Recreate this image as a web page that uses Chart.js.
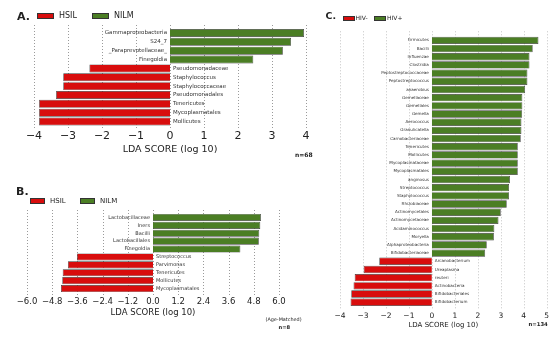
<!DOCTYPE html>
<html>
<head>
<meta charset="utf-8">
<script src="https://cdn.jsdelivr.net/npm/chart.js@4/dist/chart.umd.min.js"></script>
<style>
  body { margin: 0; background: #fff; width: 558px; height: 340px; overflow: hidden; position: relative; font-family: "DejaVu Sans", sans-serif; }
  canvas { position: absolute; }
  .t { position: absolute; white-space: nowrap; line-height: 1; transform: translateY(-50%); color: #222; }
  .box { position: absolute; border: 0.8px solid #333; box-sizing: border-box; }
</style>
</head>
<body>
<canvas id="chart-a" width="330" height="165" style="left:0;top:0"></canvas>
<canvas id="chart-b" width="300" height="175" style="left:0;top:165px"></canvas>
<canvas id="chart-c" width="258" height="340" style="left:300px;top:0"></canvas>
<div id="overlay"></div>

<script>
// Panel A: HSIL vs NILM
const labelsA = ['Gammaproteobacteria', 'S24_7', '_Paraprevotellaceae_', 'Finegoldia',
  'Pseudomonadaceae', 'Staphylococcus', 'Staphylococcaceae', 'Pseudomonadales',
  'Tenericutes', 'Mycoplasmatales', 'Mollicutes'];
const scoresA = [3.94, 3.56, 3.32, 2.45, -2.37, -3.14, -3.14, -3.35, -3.85, -3.85, -3.85];
const ticksA = [-4, -3, -2, -1, 0, 1, 2, 3, 4];
const groupsA = ['HSIL', 'NILM'];

// Panel B: HSIL vs NILM (age-matched)
const labelsB = ['Lactobacillaceae', 'Iners', 'Bacilli', 'Lactobacillales', 'Finegoldia',
  'Streptococcus', 'Parvimonas', 'Tenericutes', 'Mollicutes', 'Mycoplasmatales'];
const scoresB = [5.14, 5.11, 5.06, 5.04, 4.16, -3.62, -4.05, -4.3, -4.32, -4.38];
const ticksB = [-6.0, -4.8, -3.6, -2.4, -1.2, 0.0, 1.2, 2.4, 3.6, 4.8, 6.0];
const groupsB = ['HSIL', 'NILM'];

// Panel C: HIV- vs HIV+
const labelsC = ['Firmicutes', 'Bacilli', 'Influenzae', 'Clostridia', 'Peptostreptococcaceae',
  'Peptostreptococcus', 'anaerobius', 'Gemellaceae', 'Gemellales', 'Gemella', 'Aerococcus',
  'Granulicatella', 'Carnobacteriaceae', 'Tenericutes', 'Mollicutes', 'Mycoplasmataceae',
  'Mycoplasmatales', 'anginosus', 'Streptococcus', 'Staphylococcus', 'Rhizobiaceae',
  'Actinomycetales', 'Actinomycetaceae', 'Acidaminococcus', 'Moryella', 'Alphaproteobacteria',
  'Bifidobacteriaceae', 'Arcanobacterium', 'Ureaplasma', 'reuteri', 'Actinobacteria',
  'Bifidobacteriales', 'Bifidobacterium'];
const scoresC = [4.64, 4.39, 4.25, 4.25, 4.16, 4.16, 4.06, 3.94, 3.94, 3.93, 3.9,
  3.9, 3.87, 3.74, 3.74, 3.74, 3.74, 3.4, 3.36, 3.36, 3.26,
  3.0, 2.9, 2.72, 2.7, 2.39, 2.32, -2.29, -2.97, -3.36, -3.41, -3.51, -3.54];
const ticksC = [-4, -3, -2, -1, 0, 1, 2, 3, 4, 5];
const groupsC = ['HIV-', 'HIV+'];

const RED = '#d80d0d';
const GREEN = '#4b7e24';

Chart.defaults.font.family = '"DejaVu Sans", sans-serif';
Chart.defaults.color = '#222';

// dotted vertical grid lines, a bit longer than the bar area
const dotGrid = {
  id: 'dotGrid',
  beforeDatasetsDraw(chart, args, o) {
    const { ctx, chartArea } = chart;
    const xs = chart.scales.x;
    ctx.save();
    ctx.strokeStyle = o.color;
    ctx.lineWidth = 1;
    ctx.setLineDash([1, 2]);
    xs.ticks.forEach(t => {
      const px = Math.round(xs.getPixelForValue(t.value)) + 0.5;
      ctx.beginPath();
      ctx.moveTo(px, chartArea.top - o.over[0]);
      ctx.lineTo(px, chartArea.bottom + o.over[1]);
      ctx.stroke();
    });
    ctx.restore();
  }
};

// taxon names next to the zero line
const barLabels = {
  id: 'barLabels',
  afterDatasetsDraw(chart, args, o) {
    const ctx = chart.ctx;
    const meta = chart.getDatasetMeta(0);
    const x0 = chart.scales.x.getPixelForValue(0);
    const vals = chart.data.datasets[0].data;
    ctx.save();
    ctx.font = o.size + 'px "DejaVu Sans"';
    ctx.fillStyle = '#333';
    ctx.textBaseline = 'middle';
    meta.data.forEach((bar, i) => {
      const pos = vals[i] >= 0;
      ctx.textAlign = pos ? 'right' : 'left';
      ctx.fillText(chart.data.labels[i], x0 + (pos ? -o.gap : o.gap), bar.y);
    });
    ctx.restore();
  }
};

const fmtInt = v => (v < 0 ? '\u2212' + Math.abs(v) : String(v));
const fmtDec = v => (v < -0.001 ? '\u2212' + Math.abs(v).toFixed(1) : Math.abs(v).toFixed(1));

function makePanel(id, labels, scores, ticks, cfg) {
  const ctx = document.getElementById(id).getContext('2d');
  return new Chart(ctx, {
    type: 'bar',
    data: {
      labels: labels,
      datasets: [{
        data: scores,
        backgroundColor: scores.map(v => (v < 0 ? RED : GREEN)),
        borderColor: '#3a3a3a',
        borderWidth: 0.7,
        barPercentage: 0.9,
        categoryPercentage: 1
      }]
    },
    options: {
      indexAxis: 'y',
      responsive: false,
      animation: false,
      layout: { padding: cfg.padding },
      plugins: {
        legend: { display: false },
        tooltip: { enabled: false },
        dotGrid: { color: cfg.gridColor, over: cfg.over },
        barLabels: { size: cfg.labelSize, gap: cfg.gap }
      },
      scales: {
        x: {
          min: ticks[0],
          max: ticks[ticks.length - 1],
          afterBuildTicks: s => { s.ticks = ticks.map(v => ({ value: v })); },
          afterFit: s => { s.height = cfg.axisH; },
          grid: { display: false, drawTicks: false },
          border: { display: false },
          ticks: {
            autoSkip: false,
            maxRotation: 0,
            padding: cfg.tickPad,
            font: { size: cfg.tickSize },
            color: '#222',
            callback: cfg.fmt
          },
          title: {
            display: true,
            text: 'LDA SCORE (log 10)',
            font: { size: cfg.titleSize },
            color: '#222',
            padding: 0
          }
        },
        y: { display: false }
      }
    },
    plugins: [dotGrid, barLabels]
  });
}

makePanel('chart-a', labelsA, scoresA, ticksA, {
  padding: { left: 34, right: 24, top: 28.5, bottom: 10 },
  axisH: 29,
  gridColor: '#9a9a9a', over: [3.5, 4], labelSize: 5.5, gap: 3,
  tickPad: 3.9, tickSize: 11, titleSize: 9.5, fmt: fmtInt
});

makePanel('chart-b', labelsB, scoresB, ticksB, {
  padding: { left: 27, right: 21, top: 48.5, bottom: 21.9 },
  axisH: 25.6,
  gridColor: '#9a9a9a', over: [3.5, 2.5], labelSize: 5, gap: 3,
  tickPad: 4.1, tickSize: 8.5, titleSize: 8.5, fmt: fmtDec
});

makePanel('chart-c', labelsC, scoresC, ticksC, {
  padding: { left: 40, right: 11.3, top: 36.3, bottom: 10.8 },
  axisH: 22.9,
  gridColor: '#c4c4c4', over: [5, 2], labelSize: 4.1, gap: 3,
  tickPad: 5.2, tickSize: 7.5, titleSize: 7, fmt: fmtInt
});

// panel letters, legends and sample sizes
const overlay = document.getElementById('overlay');
function addText(text, x, y, size, bold) {
  const d = document.createElement('div');
  d.className = 't';
  d.textContent = text;
  d.style.left = x + 'px';
  d.style.top = y + 'px';
  d.style.fontSize = size + 'px';
  if (bold) d.style.fontWeight = 'bold';
  overlay.appendChild(d);
}
function addBox(color, x, y, w, h) {
  const d = document.createElement('div');
  d.className = 'box';
  d.style.cssText += `left:${x}px;top:${y}px;width:${w}px;height:${h}px;background:${color}`;
  overlay.appendChild(d);
}

addText('A.', 17, 16, 11, true);
addBox(RED, 37, 12.5, 16.5, 6.5);
addText(groupsA[0], 59, 16, 8, false);
addBox(GREEN, 92, 12.5, 16.5, 6.5);
addText(groupsA[1], 114, 16, 8, false);
addText('n=68', 295, 155, 6, true);

addText('B.', 16, 191, 11, true);
addBox(RED, 29.5, 198.3, 15, 5.5);
addText(groupsB[0], 50, 201, 7, false);
addBox(GREEN, 80, 198.3, 15, 5.5);
addText(groupsB[1], 100, 201, 7, false);
addText('(Age-Matched)', 265.5, 319, 4.9, false);
addText('n=8', 278.5, 328, 5.2, true);

addText('C.', 325.5, 16, 9.5, true);
addBox(RED, 343, 16, 11.5, 4.5);
addText(groupsC[0], 355.5, 18.3, 6, false);
addBox(GREEN, 374, 16, 12, 4.5);
addText(groupsC[1], 387, 18.3, 6, false);
addText('n=134', 528.5, 325.3, 5.3, true);
</script>
</body>
</html>
